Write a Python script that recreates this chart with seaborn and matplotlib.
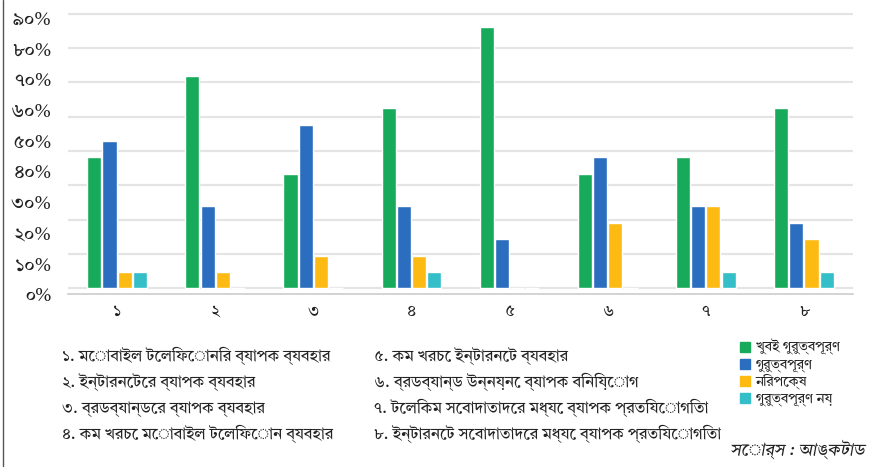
import os
import matplotlib
matplotlib.use("Agg")
import matplotlib.pyplot as plt
from matplotlib import font_manager
from matplotlib.patches import Rectangle
from matplotlib.lines import Line2D
import seaborn as sns
import pandas as pd

# survey answers, share of respondents (%)
categories = ["১", "২", "৩", "৪", "৫", "৬", "৭", "৮"]
series = ["খুবই গুরুত্বপূর্ণ", "গুরুত্বপূর্ণ", "নিরপেক্ষ", "গুরুত্বপূর্ণ নয়"]
very_important = [38.1, 61.9, 33.3, 52.4, 76.2, 33.3, 38.1, 52.4]
important = [42.9, 23.8, 47.6, 23.8, 14.3, 38.1, 23.8, 19.0]
neutral = [4.8, 4.8, 9.5, 9.5, 0.0, 19.0, 23.8, 14.3]
not_important = [4.8, 0.0, 0.0, 4.8, 0.0, 0.0, 4.8, 4.8]

ytick_labels = ["০%", "১০%", "২০%", "৩০%", "৪০%", "৫০%", "৬০%", "৭০%", "৮০%", "৯০%"]
notes_left = [
    "১. মোবাইল টেলিফোনির ব্যাপক ব্যবহার",
    "২. ইন্টারনেটের ব্যাপক ব্যবহার",
    "৩. ব্রডব্যান্ডের ব্যাপক ব্যবহার",
    "৪. কম খরচে মোবাইল টেলিফোন ব্যবহার",
]
notes_right = [
    "৫. কম খরচে ইন্টারনেট ব্যবহার",
    "৬. ব্রডব্যান্ড উন্নয়নে ব্যাপক বিনিয়োগ",
    "৭. টেলিকম সেবাদাতাদের মধ্যে ব্যাপক প্রতিযোগিতা",
    "৮. ইন্টারনেট সেবাদাতাদের মধ্যে ব্যাপক প্রতিযোগিতা",
]
source = "সোর্স : আঙ্কটাড"

COLORS = ["#17aa5b", "#2b6dbf", "#fdba12", "#33bec8"]

rows = []
for name, vals in zip(series, [very_important, important, neutral, not_important]):
    for c, v in zip(categories, vals):
        rows.append({"cat": c, "series": name, "value": v})
df = pd.DataFrame(rows)

# serif bangla face if present
bangla = "Noto Sans Bengali"
tiro = "/usr/share/fonts/truetype/google-fonts/TiroBangla-Regular.ttf"
if os.path.exists(tiro):
    font_manager.fontManager.addfont(tiro)
    bangla = font_manager.FontProperties(fname=tiro).get_name()

sns.set_style("white")
plt.rcParams["font.family"] = [bangla, "Noto Sans Bengali", "DejaVu Sans"]

fig = plt.figure(figsize=(8.74, 4.76), dpi=100)
ax = fig.add_axes([68 / 874, 182 / 476, 785 / 874, 294 / 476])

sns.barplot(data=df, x="cat", y="value", hue="series", palette=COLORS,
            saturation=1, width=0.62, gap=0.07, legend=False, ax=ax)

ax.set_ylim(0, 84)
ax.set_xlim(-0.5, 7.5)

# gridlines every 10 units, tick labels placed where the printed scale sits
ax.set_yticks(range(0, 90, 10), minor=True)
ax.grid(True, which="minor", axis="y", color="#e4e4e4", linewidth=1.6)
ax.set_axisbelow(True)
label_pos = [(-6 + 31.3 * i) / 3.5 for i in range(len(ytick_labels))]
ax.set_yticks(label_pos, ytick_labels)
ax.tick_params(axis="y", which="both", length=0, pad=12, labelsize=14, labelcolor="#222222")

ax.set_xticks(range(len(categories)), categories)
ax.set_xticks([i - 0.5 for i in range(len(categories) + 1)], minor=True)
ax.tick_params(axis="x", which="major", length=0, pad=7, labelsize=12, labelcolor="#222222")
ax.tick_params(axis="x", which="minor", length=5, width=1, color="#cccccc", direction="out")

for s in ["top", "right", "left"]:
    ax.spines[s].set_visible(False)
ax.spines["bottom"].set_color("#cccccc")
ax.spines["bottom"].set_linewidth(1.2)
ax.set_xlabel("")
ax.set_ylabel("")

# category notes
for i, t in enumerate(notes_left):
    fig.text(62 / 874, 1 - (361 + 26 * i) / 476, t, fontsize=11.5, va="baseline", color="#222222")
for i, t in enumerate(notes_right):
    fig.text(374 / 874, 1 - (361 + 26 * i) / 476, t, fontsize=11.5, va="baseline", color="#222222")

# legend
for i, (name, col) in enumerate(zip(series, COLORS)):
    y = 347 + 17 * i
    fig.patches.append(Rectangle((740 / 874, 1 - (y + 5) / 476), 10 / 874, 10 / 476,
                                 transform=fig.transFigure, color=col))
    fig.text(756 / 874, 1 - (y + 4) / 476, name, fontsize=10, va="baseline", color="#222222")

fig.text(865 / 874, 1 - 455 / 476, source, fontsize=12.5, ha="right", va="baseline",
         style="italic", color="#222222")

fig.add_artist(Line2D([2.5 / 874, 2.5 / 874], [1, 10 / 476], transform=fig.transFigure,
                      color="#555555", linewidth=1))

fig.savefig("out.png", dpi=100, facecolor="white")
